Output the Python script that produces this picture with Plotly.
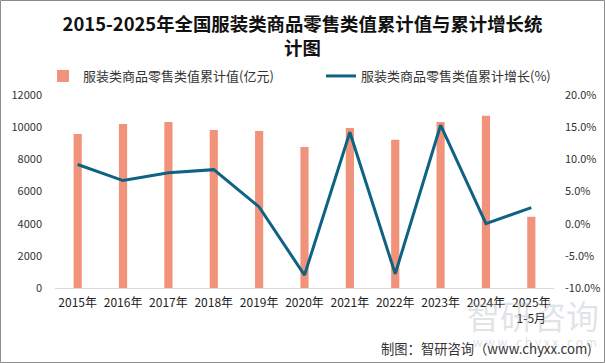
import plotly.graph_objects as go

categories = ["2015年", "2016年", "2017年", "2018年", "2019年", "2020年",
              "2021年", "2022年", "2023年", "2024年", "2025年<br>1-5月"]
retail_value = [9578, 10204, 10316, 9825, 9767, 8773, 9954, 9213, 10314, 10716, 4430]
growth_pct = [9.2, 6.7, 7.9, 8.4, 2.6, -8.0, 14.2, -7.8, 15.3, 0.0, 2.5]
left_ticks = [0, 2000, 4000, 6000, 8000, 10000, 12000]
right_ticks = [-10, -5, 0, 5, 10, 15, 20]

W, H = 605, 363
ML, MR, MT, MB = 55, 51, 95, 75
PW, PH = W - ML - MR, H - MT - MB

FONT = "Noto Sans CJK SC, Noto Sans, sans-serif"

fig = go.Figure()
fig.add_trace(go.Bar(
    x=categories, y=retail_value, name="服装类商品零售类值累计值(亿元)",
    marker=dict(color="#F0937A", line=dict(width=0)), yaxis="y", legend="legend",
))
fig.add_trace(go.Scatter(
    x=categories, y=growth_pct, name="服装类商品零售类值累计增长(%)",
    mode="lines", line=dict(color="#0E6383", width=3), yaxis="y2", legend="legend2",
))

def px_x(p):
    return (p - ML) / PW

def px_y(p):
    return (H - MB - p) / PH

legend_font = dict(size=13, color="#333333", family=FONT)

fig.update_layout(
    width=W, height=H,
    margin=dict(l=ML, r=MR, t=MT, b=MB),
    paper_bgcolor="white", plot_bgcolor="white",
    font=dict(family=FONT, color="#333333", size=11),
    bargap=0.82,
    showlegend=True,
    title=dict(
        text="<b>2015-2025年全国服装类商品零售类值累计值与累计增长统<br>计图</b>",
        x=0.5, xanchor="center", xref="container",
        y=1 - 31 / H, yanchor="middle", yref="container",
        font=dict(size=18.4, color="#111111", family=FONT),
    ),
    legend=dict(
        orientation="h", x=px_x(43), xanchor="left", y=px_y(76), yanchor="middle",
        font=legend_font, bgcolor="rgba(0,0,0,0)",
    ),
    legend2=dict(
        orientation="h", x=px_x(321), xanchor="left", y=px_y(76), yanchor="middle",
        font=legend_font, bgcolor="rgba(0,0,0,0)",
    ),
    xaxis=dict(
        showgrid=False, showline=True, linecolor="#D9D9D9", linewidth=1,
        ticks="", tickfont=dict(size=12, color="#222222"),
        ticklabelstandoff=4, automargin=False,
    ),
    yaxis=dict(
        range=[0, 12000], tickvals=left_ticks, tickformat="d",
        showgrid=False, zeroline=False,
        showline=False, ticks="", tickfont=dict(size=11, color="#333333"),
        ticklabelstandoff=12, automargin=False,
    ),
    yaxis2=dict(
        range=[-10, 20], tickvals=right_ticks,
        ticktext=[f"{v:.1f}%" for v in right_ticks],
        overlaying="y", side="right", showgrid=False, zeroline=False,
        showline=False, ticks="", tickfont=dict(size=11, color="#333333"),
        ticklabelstandoff=10, automargin=False,
    ),
)

# outer border
fig.add_shape(type="rect", xref="paper", yref="paper",
              x0=px_x(0.5), x1=px_x(W - 0.5), y0=px_y(H - 0.5), y1=px_y(0.5),
              line=dict(color="#8C8C8C", width=1), fillcolor="rgba(0,0,0,0)",
              layer="below")

# watermark
fig.add_annotation(text="智研咨询", xref="paper", yref="paper",
                   x=px_x(601), xanchor="right", y=px_y(315), yanchor="middle",
                   showarrow=False,
                   font=dict(size=33, color="rgba(170,178,188,0.35)", family=FONT))
fig.add_annotation(text="w w w . c h y x x . c o m", xref="paper", yref="paper",
                   x=px_x(599), xanchor="right", y=px_y(341), yanchor="middle",
                   showarrow=False,
                   font=dict(size=12, color="rgba(170,178,188,0.4)", family=FONT))

# footer
fig.add_annotation(text="制图：智研咨询（www.chyxx.com)", xref="paper", yref="paper",
                   x=px_x(594), xanchor="right", y=px_y(348), yanchor="middle",
                   showarrow=False,
                   font=dict(size=13.3, color="#333333", family=FONT))

fig.write_html("out.html", config={"displayModeBar": False},
               post_script="document.body.style.margin='0';")
